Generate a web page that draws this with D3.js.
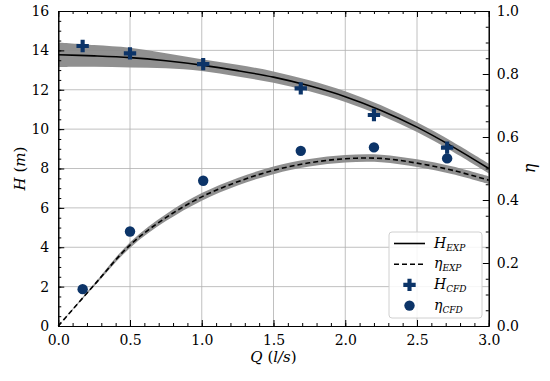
<!DOCTYPE html>
<html><head><meta charset="utf-8">
<script src="https://cdn.jsdelivr.net/npm/d3@7"></script>
<style>body{margin:0;background:#fff}</style>
</head><body>
<script>
// Data
const qExp   = [0, 0.25, 0.5, 0.75, 1.0, 1.25, 1.5, 1.75, 2.0, 2.25, 2.5, 2.75, 3.0];
const hExp   = [13.78, 13.72, 13.63, 13.47, 13.25, 12.97, 12.64, 12.2, 11.65, 10.95, 10.1, 9.1, 8.0];
const hBand  = [0.62, 0.55, 0.5, 0.38, 0.3, 0.3, 0.29, 0.28, 0.27, 0.26, 0.25, 0.25, 0.25];
const etaExp = [0, 0.13, 0.257, 0.344, 0.41, 0.458, 0.494, 0.518, 0.531, 0.532, 0.517, 0.494, 0.463];
const etaBand= [0, 0.004, 0.009, 0.011, 0.012, 0.012, 0.012, 0.012, 0.012, 0.012, 0.012, 0.012, 0.012];
const qCfd   = [0.17, 0.5, 1.01, 1.69, 2.2, 2.71];
const hCfd   = [14.22, 13.85, 13.3, 12.07, 10.72, 9.06];
const etaCfd = [0.117, 0.3, 0.461, 0.556, 0.567, 0.532];

const W = 550, H = 381;
const m = {l: 58.25, r: 61.25, t: 11, b: 55};
const svg = d3.select("body").append("svg").attr("width", W).attr("height", H);

const x = d3.scaleLinear().domain([0, 3]).range([m.l, W - m.r]);
const y = d3.scaleLinear().domain([0, 16]).range([H - m.b, m.t]);
const y2 = d3.scaleLinear().domain([0, 1]).range([H - m.b, m.t]);

// grid
const grid = svg.append("g").attr("stroke", "#b0b0b0").attr("stroke-width", 0.8);
d3.range(0.5, 3, 0.5).forEach(v => grid.append("line").attr("x1", x(v)).attr("x2", x(v)).attr("y1", y(0)).attr("y2", y(16)));
d3.range(2, 16, 2).forEach(v => grid.append("line").attr("x1", x(0)).attr("x2", x(3)).attr("y1", y(v)).attr("y2", y(v)));

const idx = d3.range(qExp.length);
const curve = d3.curveCatmullRom;
// bands
svg.append("path").attr("fill", "#8a8a8a").attr("opacity", 0.95)
  .attr("d", d3.area().curve(curve).x(i => x(qExp[i])).y0(i => y(hExp[i] - hBand[i])).y1(i => y(hExp[i] + hBand[i]))(idx));
svg.append("path").attr("fill", "#8a8a8a").attr("opacity", 0.95)
  .attr("d", d3.area().curve(curve).x(i => x(qExp[i])).y0(i => y2(etaExp[i] - etaBand[i])).y1(i => y2(etaExp[i] + etaBand[i]))(idx));
// lines
svg.append("path").attr("fill", "none").attr("stroke", "#000").attr("stroke-width", 1.6)
  .attr("d", d3.line().curve(curve).x(i => x(qExp[i])).y(i => y(hExp[i]))(idx));
svg.append("path").attr("fill", "none").attr("stroke", "#000").attr("stroke-width", 1.6).attr("stroke-dasharray", "5,3")
  .attr("d", d3.line().curve(curve).x(i => x(qExp[i])).y(i => y2(etaExp[i]))(idx));

const col = "#0c3468";
const plus = d3.symbol().type(d3.symbolCross).size(85);
svg.append("g").selectAll("path").data(qCfd).join("path")
  .attr("transform", (d, i) => `translate(${x(d)},${y(hCfd[i])})`).attr("d", plus()).attr("fill", col);
svg.append("g").selectAll("circle").data(qCfd).join("circle")
  .attr("cx", d => x(d)).attr("cy", (d, i) => y2(etaCfd[i])).attr("r", 5.2).attr("fill", col);

// axes
const fs = "14px";
function style(g) { g.selectAll("text").style("font-size", fs).attr("fill", "#000"); g.select(".domain").attr("stroke", "#000").attr("stroke-width", 1.1); g.selectAll("line").attr("stroke", "#000"); }
svg.append("g").attr("transform", `translate(0,${y(0)})`)
  .call(d3.axisBottom(x).tickValues(d3.range(0, 3.01, 0.5)).tickFormat(d3.format(".1f")).tickSizeInner(-6).tickSizeOuter(0).tickPadding(9)).call(style);
svg.append("g").attr("transform", `translate(0,${y(0)})`)
  .call(d3.axisBottom(x).tickValues(d3.range(0, 3.01, 0.1)).tickFormat("").tickSizeInner(-3).tickSizeOuter(0)).call(style);
svg.append("g").attr("transform", `translate(0,${y(16)})`)
  .call(d3.axisTop(x).tickValues(d3.range(0, 3.01, 0.5)).tickFormat("").tickSizeInner(-6).tickSizeOuter(0)).call(style);
svg.append("g").attr("transform", `translate(0,${y(16)})`)
  .call(d3.axisTop(x).tickValues(d3.range(0, 3.01, 0.1)).tickFormat("").tickSizeInner(-3).tickSizeOuter(0)).call(style);
svg.append("g").attr("transform", `translate(${x(0)},0)`)
  .call(d3.axisLeft(y).tickValues(d3.range(0, 16.1, 2)).tickFormat(d3.format("d")).tickSizeInner(-6).tickSizeOuter(0).tickPadding(9)).call(style);
svg.append("g").attr("transform", `translate(${x(0)},0)`)
  .call(d3.axisLeft(y).tickValues(d3.range(0, 16.1, 0.5)).tickFormat("").tickSizeInner(-3).tickSizeOuter(0)).call(style);
svg.append("g").attr("transform", `translate(${x(3)},0)`)
  .call(d3.axisRight(y2).tickValues(d3.range(0, 1.01, 0.2)).tickFormat(d3.format(".1f")).tickSizeInner(-6).tickSizeOuter(0).tickPadding(8)).call(style);
svg.append("g").attr("transform", `translate(${x(3)},0)`)
  .call(d3.axisRight(y2).tickValues(d3.range(0, 1.01, 0.05)).tickFormat("").tickSizeInner(-3).tickSizeOuter(0)).call(style);

// axis labels
svg.append("text").attr("x", (x(0) + x(3)) / 2).attr("y", 362).attr("text-anchor", "middle").style("font-size", "15px")
  .html('<tspan font-style="italic">Q</tspan> (<tspan font-style="italic">l/s</tspan>)');
svg.append("text").attr("transform", `translate(25,${(y(0) + y(16)) / 2}) rotate(-90)`).attr("text-anchor", "middle").style("font-size", "15px")
  .html('<tspan font-style="italic">H</tspan> (<tspan font-style="italic">m</tspan>)');
svg.append("text").attr("transform", `translate(535,${(y(0) + y(16)) / 2}) rotate(-90)`).attr("text-anchor", "middle").style("font-size", "16px").style("font-style", "italic").text("η");

// legend
const lg = svg.append("g");
lg.append("rect").attr("x", 389).attr("y", 232).attr("width", 93).attr("height", 86).attr("rx", 3)
  .attr("fill", "#fff").attr("fill-opacity", 0.85).attr("stroke", "#d0d0d0");
const labels = [["H", "EXP"], ["η", "EXP"], ["H", "CFD"], ["η", "CFD"]];
labels.forEach((lab, i) => {
  const yy = 243.5 + i * 20.7;
  if (i === 0) lg.append("line").attr("x1", 394).attr("x2", 425).attr("y1", yy).attr("y2", yy).attr("stroke", "#000").attr("stroke-width", 1.6);
  if (i === 1) lg.append("line").attr("x1", 394).attr("x2", 425).attr("y1", yy).attr("y2", yy).attr("stroke", "#000").attr("stroke-width", 1.6).attr("stroke-dasharray", "5,3");
  if (i === 2) lg.append("path").attr("transform", `translate(409.5,${yy})`).attr("d", plus()).attr("fill", col);
  if (i === 3) lg.append("circle").attr("cx", 409.5).attr("cy", yy).attr("r", 5.2).attr("fill", col);
  lg.append("text").attr("x", 434).attr("y", yy + 4).style("font-size", "14px").style("font-style", "italic")
    .html(`${lab[0]}<tspan dy="3" font-size="9px">${lab[1]}</tspan>`);
});

// serif font everywhere
svg.selectAll("g").attr("font-family", null);
svg.selectAll("text").style("font-family", "'DejaVu Serif', serif");
</script>
</body></html>
